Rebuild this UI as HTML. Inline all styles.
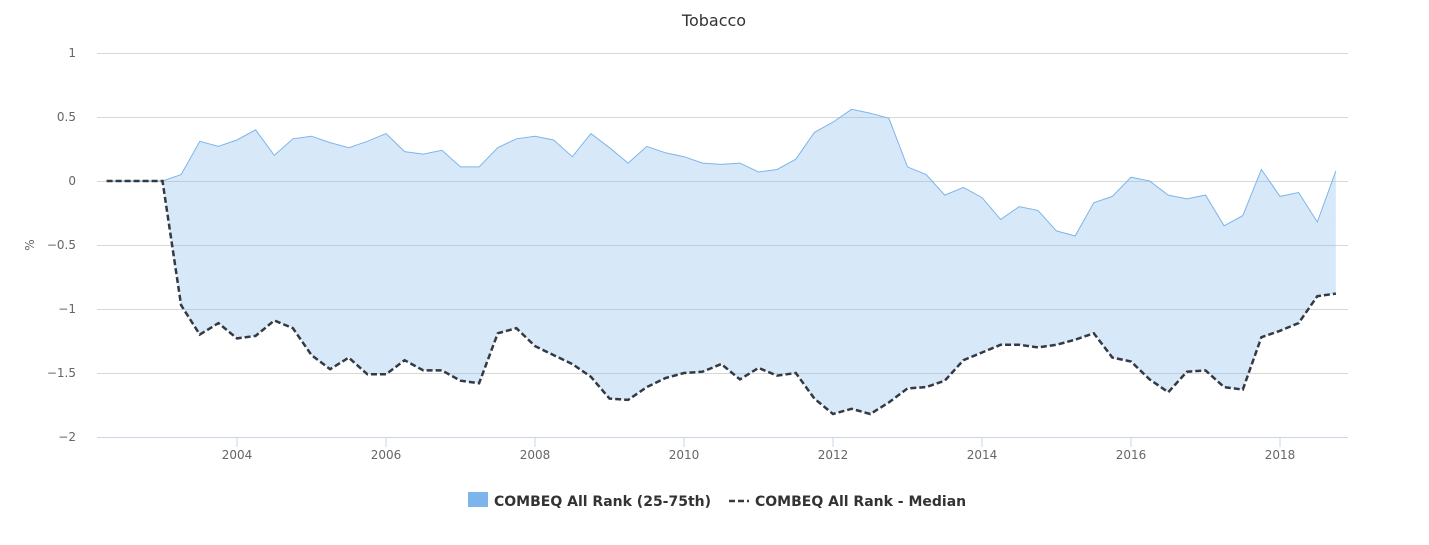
<!DOCTYPE html>
<html><head><meta charset="utf-8"><style>
body{margin:0;background:#fff;font-family:"Liberation Sans","DejaVu Sans",sans-serif}
svg text{font-family:"DejaVu Sans","Liberation Sans",sans-serif}
</style></head><body>
<svg id="c" width="1429" height="540" xmlns="http://www.w3.org/2000/svg">
<rect width="1429" height="540" fill="#fff"/>
<text x="714" y="26" text-anchor="middle" font-size="16" fill="#333">Tobacco</text>
<g id="grid" stroke="#d8d8d8" stroke-width="1"></g>
<g id="yl" font-size="12" fill="#666" text-anchor="end"></g>
<text transform="translate(34,245) rotate(-90)" text-anchor="middle" font-size="12" fill="#666">%</text>
<path id="area" fill="#7cb5ec" fill-opacity="0.3" stroke="none"/>
<path id="up" fill="none" stroke="#7cb5ec" stroke-width="1"/>
<path id="med" fill="none" stroke="#333a44" stroke-width="2.5" stroke-dasharray="6,3"/>
<line x1="97" y1="437.5" x2="1348" y2="437.5" stroke="#ccd6eb"/>
<g id="xl" font-size="12" fill="#666" text-anchor="middle"></g>
<rect x="468" y="492" width="20" height="15" fill="#7cb5ec"/>
<text x="494" y="506" font-size="14" font-weight="bold" fill="#333">COMBEQ All Rank (25-75th)</text>
<line x1="729" y1="501" x2="749" y2="501" stroke="#333a44" stroke-width="2.5" stroke-dasharray="6,3"/>
<text x="755" y="506" font-size="14" font-weight="bold" fill="#333">COMBEQ All Rank - Median</text>
</svg>
<script>
var up=[0,0,0,0,0.05,0.31,0.27,0.32,0.40,0.20,0.33,0.35,0.30,0.26,0.31,0.37,0.23,0.21,0.24,0.11,0.11,0.26,0.33,0.35,0.32,0.19,0.37,0.26,0.14,0.27,0.22,0.19,0.14,0.13,0.14,0.07,0.09,0.17,0.38,0.46,0.56,0.53,0.49,0.11,0.05,-0.11,-0.05,-0.13,-0.30,-0.20,-0.23,-0.39,-0.43,-0.17,-0.12,0.03,0.00,-0.11,-0.14,-0.11,-0.35,-0.27,0.09,-0.12,-0.09,-0.32,0.08];
var md=[0,0,0,0,-0.97,-1.20,-1.11,-1.23,-1.21,-1.09,-1.15,-1.36,-1.47,-1.38,-1.51,-1.51,-1.40,-1.48,-1.48,-1.56,-1.58,-1.19,-1.15,-1.29,-1.36,-1.43,-1.53,-1.70,-1.71,-1.61,-1.54,-1.50,-1.49,-1.43,-1.55,-1.46,-1.52,-1.50,-1.70,-1.82,-1.78,-1.82,-1.73,-1.62,-1.61,-1.56,-1.40,-1.34,-1.28,-1.28,-1.30,-1.28,-1.24,-1.19,-1.38,-1.41,-1.55,-1.65,-1.49,-1.48,-1.61,-1.63,-1.22,-1.17,-1.11,-0.90,-0.88];
function X(i){return 237+(2002.25+i*0.25-2004)*74.5}
function Y(v){return 181-v*128}
var pu=up.map((v,i)=>(i?'L':'M')+X(i).toFixed(1)+','+Y(v).toFixed(1)).join('');
var pm=md.map((v,i)=>(i?'L':'M')+X(i).toFixed(1)+','+Y(v).toFixed(1)).join('');
var pa=pu;for(var i=md.length-1;i>=0;i--)pa+='L'+X(i).toFixed(1)+','+Y(md[i]).toFixed(1);
document.getElementById('up').setAttribute('d',pu);
document.getElementById('med').setAttribute('d',pm);
document.getElementById('area').setAttribute('d',pa+'Z');
var g=document.getElementById('grid'),yl=document.getElementById('yl'),xl=document.getElementById('xl'),ns='http://www.w3.org/2000/svg';
[1,0.5,0,-0.5,-1,-1.5].forEach(v=>{var l=document.createElementNS(ns,'line');var y=Y(v)+0.5;l.setAttribute('x1',97);l.setAttribute('x2',1348);l.setAttribute('y1',y);l.setAttribute('y2',y);g.appendChild(l);});
[1,0.5,0,-0.5,-1,-1.5,-2].forEach(v=>{var t=document.createElementNS(ns,'text');t.setAttribute('x',76);t.setAttribute('y',Y(v)+4);t.textContent=String(v).replace('-','\u2212');yl.appendChild(t);});
for(var yr=2004;yr<=2018;yr+=2){var x=237+(yr-2004)*74.5;var t=document.createElementNS(ns,'text');t.setAttribute('x',x);t.setAttribute('y',459);t.textContent=yr;xl.appendChild(t);var k=document.createElementNS(ns,'line');k.setAttribute('x1',x);k.setAttribute('x2',x);k.setAttribute('y1',437);k.setAttribute('y2',447);k.setAttribute('stroke','#ccd6eb');xl.appendChild(k);}
</script>
</body></html>
